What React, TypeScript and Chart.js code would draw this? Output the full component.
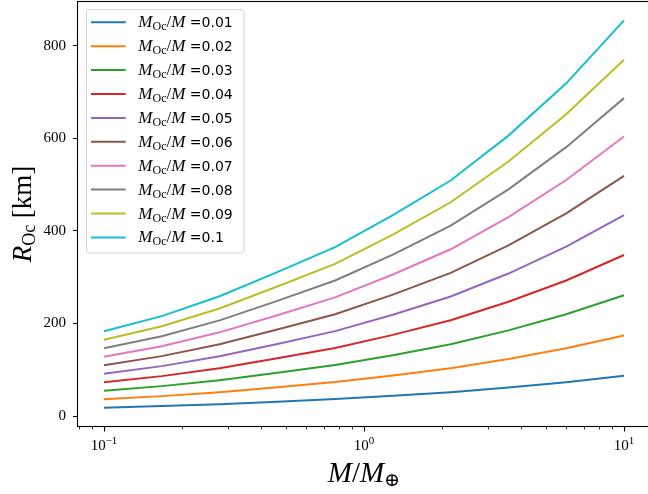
import React, { useEffect, useRef } from "react";
import { Chart, registerables } from "chart.js";

Chart.register(...registerables);

// Planet mass in Earth masses (x values)
const massRatio = [0.1, 0.16681, 0.27826, 0.46416, 0.77426, 1.29155, 2.15443, 3.59381, 5.99484, 10];

// Ocean mass fractions (legend)
const fractions = ["0.01", "0.02", "0.03", "0.04", "0.05", "0.06", "0.07", "0.08", "0.09", "0.1"];

// Ocean radius R_Oc [km] for each fraction
const r001 = [18.3, 21.6, 25.9, 31.3, 36.8, 43.9, 51.8, 61.8, 73.4, 87];
const r002 = [36.6, 43.2, 51.8, 62.5, 73.5, 87.8, 103.5, 123.6, 146.7, 174];
const r003 = [55, 64.8, 77.7, 93.8, 110.3, 131.7, 155.3, 185.3, 220, 261];
const r004 = [73.3, 86.4, 103.6, 125, 147, 175.5, 207, 247, 293, 348];
const r005 = [91.6, 108, 129.4, 156, 183.6, 219, 258.5, 308, 366, 434];
const r006 = [110, 129.6, 155.2, 187, 220, 262.5, 309.5, 369, 438, 519];
const r007 = [128.3, 151, 181, 218, 256.5, 306, 360.5, 430, 510, 604];
const r008 = [146.6, 172.6, 206.8, 249, 293, 349, 411.5, 490, 581, 687];
const r009 = [165, 194, 232.5, 280, 329, 392, 462, 550, 652, 770];
const r010 = [183.3, 216, 259, 311, 365, 434, 509, 606, 719, 855];
const seriesValues = [r001, r002, r003, r004, r005, r006, r007, r008, r009, r010];

const colors = ["#1f77b4", "#ff7f0e", "#2ca02c", "#d62728", "#9467bd", "#8c564b", "#e377c2", "#7f7f7f", "#bcbd22", "#17becf"];

const yTicks = [0, 200, 400, 600, 800];
const xMajorTicks = [0.1, 1, 10];
const xMajorExp = ["\u22121", "0", "1"];

const SERIF = '"Liberation Serif", "DejaVu Serif", serif';
const SANS = '"DejaVu Sans", sans-serif';

type Seg = { t: string; font: string; dy?: number };

function segWidth(ctx: CanvasRenderingContext2D, segs: Seg[]) {
  let w = 0;
  for (const s of segs) {
    ctx.font = s.font;
    w += ctx.measureText(s.t).width;
  }
  return w;
}
function drawSegs(ctx: CanvasRenderingContext2D, segs: Seg[], x: number, y: number) {
  for (const s of segs) {
    ctx.font = s.font;
    ctx.fillText(s.t, x, y + (s.dy || 0));
    x += ctx.measureText(s.t).width;
  }
  return x;
}

const mplPlugin = {
  id: "mplDecor",
  afterDraw(chart: any) {
    const { ctx, chartArea: a, scales } = chart;
    const xs = scales.x;
    ctx.save();
    ctx.fillStyle = "#000";
    ctx.strokeStyle = "#000";

    // spines
    ctx.lineWidth = 1.1;
    ctx.strokeRect(a.left - 0.5, a.top + 0.5, a.right - a.left + 0.5, a.bottom - a.top - 1);

    // x ticks (major + minor)
    for (let e = -2; e <= 1; e++) {
      for (let m = 1; m <= 9; m++) {
        const v = m * Math.pow(10, e);
        if (v < xs.min || v > xs.max) continue;
        const px = Math.round(xs.getPixelForValue(v)) + 0.5;
        const major = m === 1;
        ctx.lineWidth = major ? 1.1 : 0.8;
        ctx.beginPath();
        ctx.moveTo(px, a.bottom - 0.5);
        ctx.lineTo(px, a.bottom - 0.5 + (major ? 5 : 3));
        ctx.stroke();
      }
    }
    // x tick labels
    ctx.textBaseline = "alphabetic";
    xMajorTicks.forEach((v, i) => {
      const px = xs.getPixelForValue(v);
      const segs: Seg[] = [
        { t: "10", font: `15px ${SERIF}` },
        { t: xMajorExp[i], font: `11px ${SERIF}`, dy: -6 },
      ];
      const w = segWidth(ctx, segs);
      drawSegs(ctx, segs, px - w / 2, 450);
    });

    // x axis title
    const xt: Seg[] = [
      { t: "M", font: `italic 29px ${SERIF}` },
      { t: "/", font: `29px ${SERIF}` },
      { t: "M", font: `italic 29px ${SERIF}` },
      { t: "\u2295", font: `19px ${SERIF}`, dy: 4 },
    ];
    const xw = segWidth(ctx, xt);
    drawSegs(ctx, xt, (a.left + a.right) / 2 - xw / 2, 482);

    // y axis title
    const yt: Seg[] = [
      { t: "R", font: `italic 27px ${SERIF}` },
      { t: "Oc", font: `18px ${SERIF}`, dy: 4 },
      { t: " [km]", font: `27px ${SERIF}` },
    ];
    const yw = segWidth(ctx, yt);
    ctx.save();
    ctx.translate(31, (a.top + a.bottom) / 2);
    ctx.rotate(-Math.PI / 2);
    drawSegs(ctx, yt, -yw / 2, 0);
    ctx.restore();

    // legend
    const lx = 86.5, ly = 9.5, lw = 157.5, lh = 243.5;
    ctx.beginPath();
    (ctx as any).roundRect(lx, ly, lw, lh, 3);
    ctx.fillStyle = "rgba(255,255,255,0.8)";
    ctx.fill();
    ctx.strokeStyle = "#d5d5d5";
    ctx.lineWidth = 1;
    ctx.stroke();
    chart.data.datasets.forEach((ds: any, i: number) => {
      const ry = 22.3 + i * 23.9;
      ctx.strokeStyle = ds.borderColor;
      ctx.lineWidth = 2;
      ctx.beginPath();
      ctx.moveTo(91, ry);
      ctx.lineTo(125.7, ry);
      ctx.stroke();
      ctx.fillStyle = "#000";
      const segs: Seg[] = [
        { t: "M", font: `italic 17px ${SERIF}` },
        { t: "Oc", font: `12px ${SERIF}`, dy: 3 },
        { t: "/", font: `17px ${SERIF}` },
        { t: "M", font: `italic 17px ${SERIF}` },
        { t: " =" + fractions[i], font: `14px ${SANS}` },
      ];
      drawSegs(ctx, segs, 138.3, ry + 5);
    });
    ctx.restore();
  },
};

export default function App() {
  const ref = useRef<HTMLCanvasElement | null>(null);
  useEffect(() => {
    if (!ref.current) return;
    const chart = new Chart(ref.current, {
      type: "line",
      data: {
        datasets: seriesValues.map((vals, i) => ({
          label: `M_Oc/M =${fractions[i]}`,
          data: vals.map((v, j) => ({ x: massRatio[j], y: v })),
          borderColor: colors[i],
          backgroundColor: colors[i],
          borderWidth: 2,
          pointRadius: 0,
          tension: 0,
          fill: false,
        })),
      },
      options: {
        responsive: false,
        animation: false,
        devicePixelRatio: 1,
        layout: { padding: { top: 1, left: 0, right: 0, bottom: 0 } },
        plugins: { legend: { display: false }, tooltip: { enabled: false } },
        scales: {
          x: {
            type: "logarithmic",
            min: Math.pow(10, -1.1),
            max: Math.pow(10, 1.1),
            grid: { display: false },
            border: { display: false },
            ticks: { display: false },
            afterFit(s: any) {
              s.height = 67;
              s.paddingLeft = 0;
              s.paddingRight = 0;
            },
          },
          y: {
            type: "linear",
            min: -23.5,
            max: 896.8,
            afterBuildTicks(s: any) {
              s.ticks = yTicks.map((v) => ({ value: v }));
            },
            grid: { drawOnChartArea: false, tickLength: 5, tickColor: "#000", tickWidth: 1.1 },
            border: { display: false },
            ticks: { font: { family: SERIF, size: 15 }, color: "#000", padding: 7 },
            afterFit(s: any) {
              s.width = 78;
              s.paddingTop = 0;
              s.paddingBottom = 0;
            },
          },
        },
      } as any,
      plugins: [mplPlugin],
    });
    return () => chart.destroy();
  }, []);
  return (
    <div style={{ position: "absolute", left: 0, top: 0, width: 648, height: 494, overflow: "hidden", background: "#fff" }}>
      <canvas ref={ref} width={650} height={494} style={{ display: "block" }} />
    </div>
  );
}
